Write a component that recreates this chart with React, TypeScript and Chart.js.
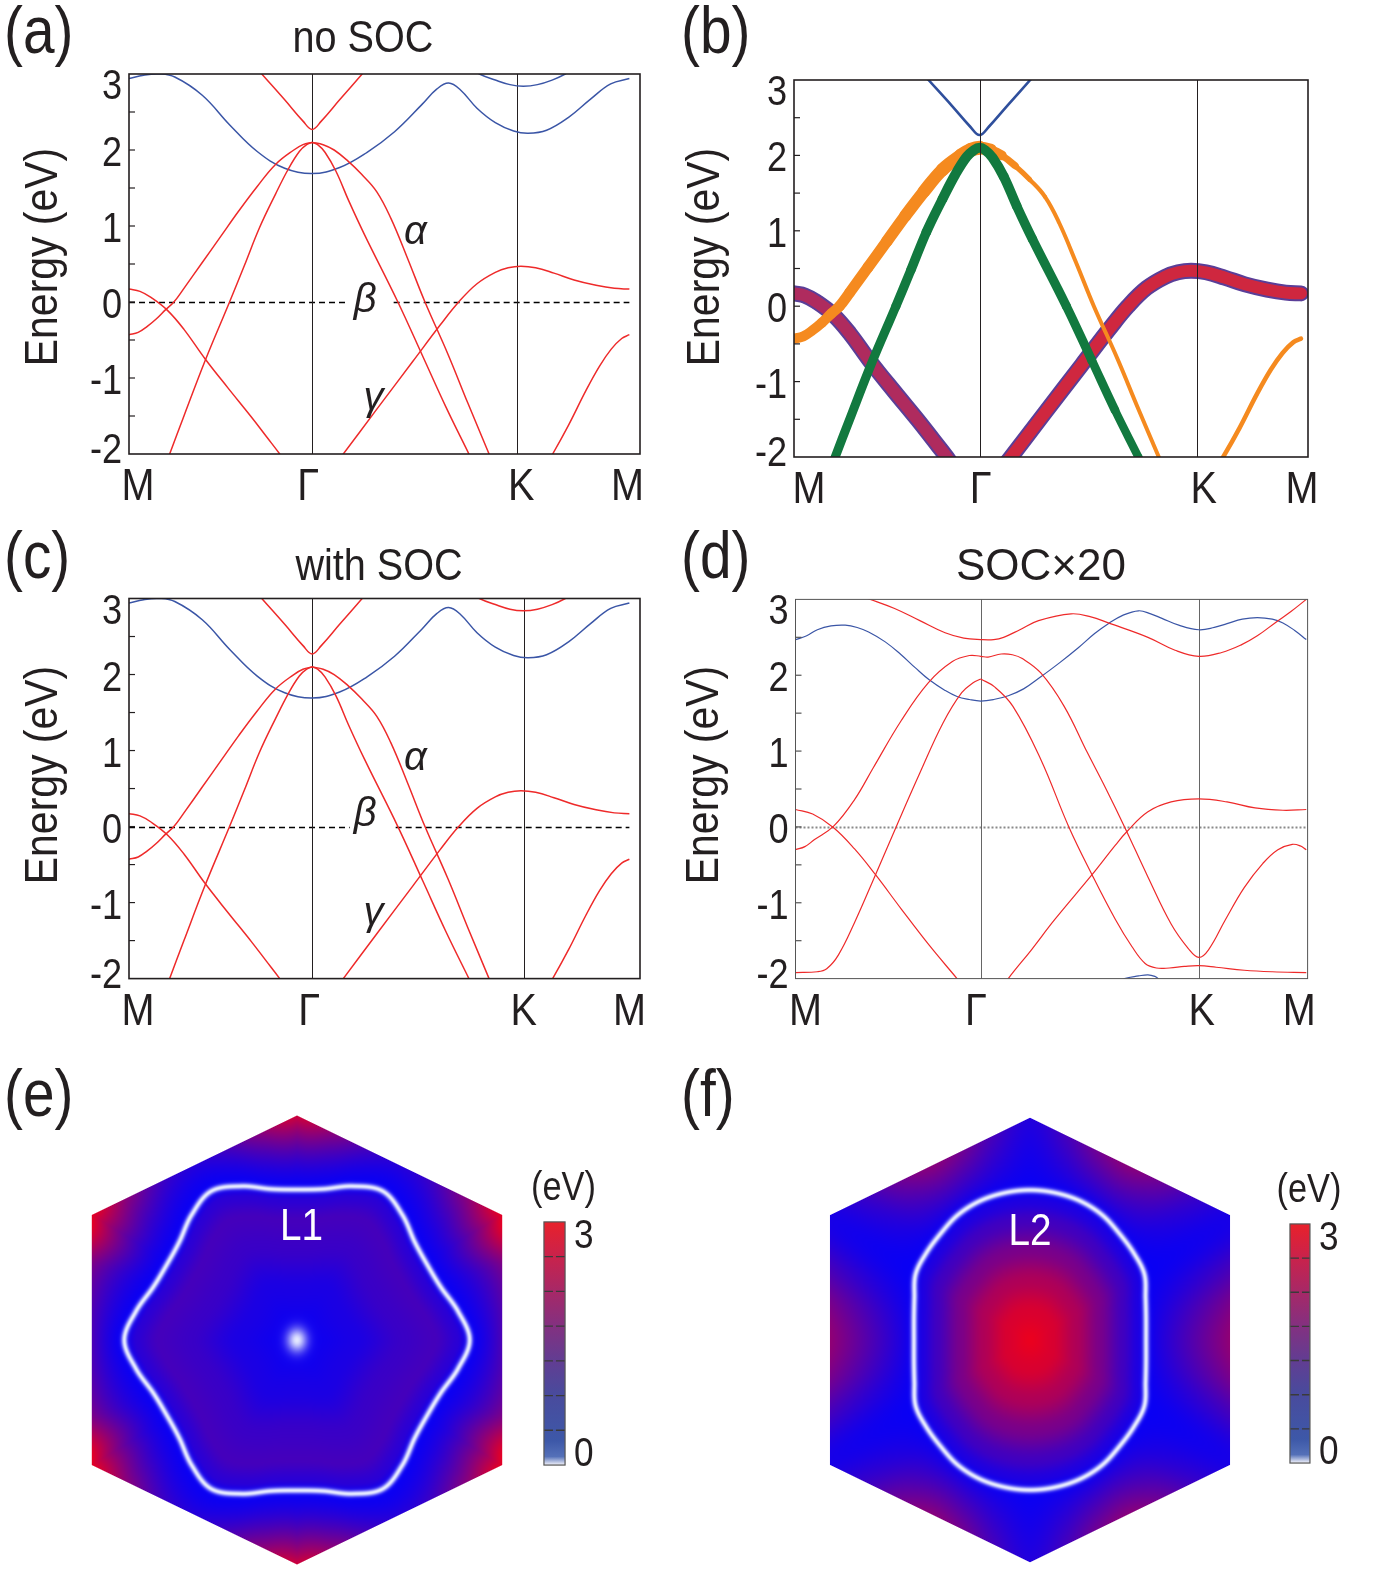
import React, { useEffect, useRef } from 'react';
import { Chart, registerables } from 'chart.js';

Chart.register(...registerables);

type P = [number, number];

const SANS = '"Liberation Sans", Arial, sans-serif';
const INK = '#231f20';
const RED = '#ee2a2a';
const BLUE = '#3a55a6';
const ORANGE = '#f58a1f';
const GREEN = '#12793f';

// ---- k-path and energy axis -------------------------------------------
const kLabels = ['M', 'Γ', 'K', 'M'];
const kNodesA = [0, 1, 2.12, 2.732];
const kNodesB = [0, 1, 2.17, 2.732];
const kNodesC = [0, 1, 2.155, 2.732];
const kNodesD = [0, 0.991, 2.157, 2.732];
const energyTicks = [-2, -1, 0, 1, 2, 3];
const energyMinorTicks = [-1.5, -1, -0.5, 0, 0.5, 1, 1.5, 2, 2.5];

// ---- bands without / with SOC (panels a, b, c) --------------------------
const bandBlueLow: P[] = [[0, 2.94], [0.08, 2.985], [0.165, 3.0], [0.25, 2.96], [0.4, 2.72], [0.55, 2.33], [0.7, 1.98], [0.85, 1.76], [1.0, 1.69], [1.15, 1.77], [1.3, 1.97], [1.45, 2.24], [1.6, 2.6], [1.68, 2.8], [1.745, 2.88], [1.81, 2.79], [1.9, 2.55], [2.0, 2.36], [2.1, 2.25], [2.18, 2.22], [2.28, 2.26], [2.4, 2.43], [2.52, 2.67], [2.63, 2.87], [2.732, 2.94]];
const bandTopK: P[] = [[1.88, 3.06], [1.913, 3.0], [2.0, 2.92], [2.08, 2.86], [2.153, 2.84], [2.23, 2.86], [2.31, 2.92], [2.382, 3.0], [2.41, 3.05]];
const bandVTop: P[] = [[0.7, 3.07], [0.725, 3.0], [0.85, 2.66], [0.95, 2.38], [1.0, 2.27], [1.05, 2.38], [1.15, 2.66], [1.273, 3.0], [1.3, 3.07]];
const bandWideL: P[] = [[0, -0.43], [0.05, -0.4], [0.1, -0.32], [0.15, -0.22], [0.2, -0.1], [0.245, 0.0], [0.3, 0.18], [0.4, 0.52], [0.5, 0.86], [0.6, 1.2], [0.7, 1.52], [0.8, 1.81], [0.9, 2.0], [0.95, 2.07], [1.0, 2.1]];
const bandWideR: P[] = [[1.0, 2.1], [1.06, 2.07], [1.12, 2.0], [1.193, 1.86], [1.27, 1.68], [1.353, 1.45], [1.43, 1.1], [1.52, 0.58], [1.616, 0.0], [1.742, -0.69], [1.85, -1.33], [1.966, -2.0], [1.99, -2.14]];
const bandNarrowL: P[] = [[0.2, -2.15], [0.222, -2.0], [0.3, -1.5], [0.416, -0.77], [0.549, 0.0], [0.63, 0.48], [0.713, 0.98], [0.8, 1.42], [0.87, 1.75], [0.93, 1.98], [0.97, 2.07], [1.0, 2.1]];
const bandNarrowR: P[] = [[1.0, 2.1], [1.03, 2.07], [1.07, 1.97], [1.13, 1.72], [1.2, 1.33], [1.285, 0.89], [1.468, 0.0], [1.605, -0.72], [1.73, -1.38], [1.856, -2.0], [1.88, -2.12]];
const bandDownL: P[] = [[0, 0.17], [0.06, 0.14], [0.12, 0.06], [0.21, -0.11], [0.3, -0.36], [0.416, -0.75], [0.54, -1.13], [0.667, -1.51], [0.75, -1.77], [0.823, -2.0], [0.85, -2.1]];
const bandUpR: P[] = [[1.15, -2.06], [1.17, -2.0], [1.35, -1.42], [1.55, -0.78], [1.7, -0.3], [1.8, 0.0], [1.9, 0.24], [2.0, 0.39], [2.07, 0.45], [2.14, 0.47], [2.22, 0.45], [2.32, 0.38], [2.43, 0.29], [2.55, 0.22], [2.65, 0.18], [2.732, 0.17]];
const bandLowK: P[] = [[2.29, -2.08], [2.313, -2.0], [2.4, -1.62], [2.496, -1.16], [2.57, -0.84], [2.633, -0.62], [2.69, -0.48], [2.732, -0.43]];

// fat-band weights for panel (b), in pixels along each band
const bandWide = [...bandWideL, ...bandWideR.slice(1)];
const wideWeight = [10, 10, 10, 10, 10.5, 10.5, 11, 11, 11.5, 12, 12.5, 13, 13.5, 14, 14, 11.5, 8, 6, 4.5, 4, 4, 4, 4, 4, 4, 4, 4];
const bandNarrow = [...bandNarrowL, ...bandNarrowR.slice(1)];
const narrowWeight = [9, 9, 9, 9, 9, 9.5, 9.5, 10, 10, 10, 10, 10, 10, 10, 10, 9.5, 9.5, 9, 9, 8.5, 8, 8];

// ---- bands with SOC x 20 (panel d) -------------------------------------
const socBlue: P[] = [[0, 2.47], [0.06, 2.52], [0.117, 2.6], [0.19, 2.65], [0.266, 2.66], [0.33, 2.63], [0.391, 2.57], [0.48, 2.44], [0.565, 2.27], [0.64, 2.1], [0.715, 1.94], [0.8, 1.8], [0.864, 1.72], [0.93, 1.68], [0.991, 1.66], [1.06, 1.68], [1.138, 1.73], [1.22, 1.82], [1.312, 1.98], [1.41, 2.16], [1.511, 2.36], [1.6, 2.55], [1.673, 2.68], [1.75, 2.79], [1.835, 2.85], [1.9, 2.81], [1.96, 2.75], [2.05, 2.66], [2.157, 2.6], [2.24, 2.63], [2.308, 2.68], [2.39, 2.74], [2.47, 2.76], [2.55, 2.74], [2.607, 2.69], [2.67, 2.59], [2.732, 2.47]];
const socBlueLow: P[] = [[1.72, -2.06], [1.76, -2.0], [1.835, -1.965], [1.885, -1.95], [1.922, -1.97], [1.94, -2.0], [1.96, -2.06]];
const socTop: P[] = [[0.35, 3.04], [0.4, 3.0], [0.53, 2.88], [0.665, 2.72], [0.8, 2.56], [0.9, 2.49], [0.991, 2.47], [1.06, 2.47], [1.113, 2.5], [1.2, 2.6], [1.3, 2.72], [1.474, 2.81], [1.58, 2.77], [1.673, 2.69], [1.885, 2.5], [2.03, 2.33], [2.157, 2.25], [2.28, 2.3], [2.384, 2.4], [2.47, 2.52], [2.57, 2.7], [2.65, 2.84], [2.732, 3.0]];
const socD1: P[] = [[0, -0.3], [0.05, -0.26], [0.1, -0.17], [0.204, 0.01], [0.316, 0.36], [0.416, 0.78], [0.565, 1.4], [0.71, 1.9], [0.839, 2.18], [0.93, 2.26], [0.991, 2.25], [1.03, 2.24], [1.1, 2.28], [1.16, 2.27], [1.213, 2.22], [1.312, 2.03], [1.437, 1.59], [1.561, 0.98], [1.661, 0.5], [1.76, 0.0], [1.885, -0.66], [2.009, -1.28], [2.1, -1.6], [2.157, -1.72], [2.209, -1.62], [2.3, -1.22], [2.4, -0.8], [2.5, -0.48], [2.58, -0.3], [2.657, -0.23], [2.7, -0.25], [2.732, -0.3]];
const socD2: P[] = [[0.991, 1.95], [1.063, 1.85], [1.163, 1.59], [1.312, 0.89], [1.462, 0.0], [1.586, -0.63], [1.711, -1.22], [1.8, -1.58], [1.87, -1.8], [1.93, -1.86], [2.0, -1.86], [2.08, -1.84], [2.157, -1.83], [2.25, -1.85], [2.4, -1.89], [2.55, -1.91], [2.732, -1.92]];
const socD3: P[] = [[0, 0.23], [0.092, 0.17], [0.204, -0.01], [0.316, -0.29], [0.428, -0.63], [0.565, -1.08], [0.715, -1.56], [0.864, -2.0], [0.89, -2.08]];
const socD4: P[] = [[0, -1.92], [0.117, -1.91], [0.167, -1.87], [0.229, -1.69], [0.316, -1.26], [0.428, -0.63], [0.54, 0.01], [0.665, 0.71], [0.789, 1.37], [0.889, 1.77], [0.95, 1.9], [0.991, 1.95]];
const socD5: P[] = [[1.12, -2.08], [1.138, -2.0], [1.262, -1.62], [1.387, -1.22], [1.586, -0.63], [1.711, -0.24], [1.773, -0.06], [1.885, 0.2], [2.009, 0.33], [2.157, 0.37], [2.308, 0.33], [2.458, 0.25], [2.607, 0.22], [2.732, 0.23]];

// ---- Brillouin-zone maps (panels e, f) ---------------------------------
const hexE: P[] = [[0, 1], [0.914, 0.557], [0.914, -0.557], [0, -1], [-0.914, -0.557], [-0.914, 0.557]];
const hexF: P[] = [[0, 0.99], [0.891, 0.556], [0.891, -0.556], [0, -0.99], [-0.891, -0.556], [-0.891, 0.556]];
// contour radius every 10 degrees from 0 to 90
const ringL1 = [0.769, 0.729, 0.683, 0.67, 0.683, 0.729, 0.765, 0.729, 0.683, 0.67];
const ringL2 = [0.517, 0.525, 0.548, 0.588, 0.603, 0.619, 0.643, 0.658, 0.665, 0.668];
// energy (eV) inside the contour vs fraction of contour radius
const insideS_E = [0, 0.1, 0.35, 0.6, 0.8, 0.93, 1];
const insideE_E = [0.05, 0.08, 0.25, 0.65, 0.8, 0.45, 0.0];
const insideS_F = [0, 0.2, 0.4, 0.6, 0.8, 0.92, 1];
const insideE_F = [3.0, 2.75, 2.2, 1.5, 0.75, 0.3, 0.0];
// energy (eV) on the zone boundary every 10 degrees from 0 to 90
const edgeE_E = [0.9, 1.0, 1.5, 2.95, 1.7, 0.7, 0.4, 0.8, 1.7, 2.6];
const edgeE_F = [1.8, 1.5, 0.8, 0.2, 0.6, 1.3, 1.7, 1.4, 0.8, 0.35];
// colour bar
const cbTicks = [0, 3];
const cbStopPos = [0, 0.035, 0.1, 0.3, 0.44, 0.58, 0.72, 0.87, 1];
const cbStopCol = ['#f4f4fb', '#5470b8', '#3d58a8', '#4a4a9c', '#643c91', '#85307f', '#a82866', '#cc2249', '#e8212b'];
const cbMinor = [1, 2, 3, 4, 5, 6];

// -----------------------------------------------------------------------
function drawText(ctx: CanvasRenderingContext2D, s: string, x: number, y: number, size: number, o: any = {}) {
  ctx.save();
  ctx.translate(x, y);
  if (o.rot) ctx.rotate(o.rot);
  ctx.scale(o.sx ?? 1, 1);
  ctx.font = `${o.italic ? 'italic ' : ''}${size}px ${SANS}`;
  ctx.fillStyle = o.color ?? INK;
  ctx.textAlign = o.align ?? 'left';
  ctx.textBaseline = o.base ?? 'alphabetic';
  ctx.fillText(s, 0, 0);
  ctx.restore();
}

const toXY = (a: P[]) => a.map(([x, y]) => ({ x, y }));

function bandPlugin(cfg: any) {
  const nodeLines = (chart: any) => {
    const { ctx, chartArea: a, scales } = chart;
    ctx.save();
    ctx.strokeStyle = cfg.nodeLine.color;
    ctx.lineWidth = cfg.nodeLine.width;
    for (const v of [cfg.nodes[1], cfg.nodes[2]]) {
      const px = Math.round(scales.x.getPixelForValue(v)) + 0.5;
      ctx.beginPath();
      ctx.moveTo(px, a.top);
      ctx.lineTo(px, a.bottom);
      ctx.stroke();
    }
    ctx.restore();
  };
  return {
    id: 'bandDecor',
    beforeDatasetsDraw(chart: any) {
      const { ctx, scales } = chart;
      if (cfg.zero) {
        const y0 = Math.round(scales.y.getPixelForValue(0)) + 0.5;
        ctx.save();
        ctx.strokeStyle = cfg.zero.color;
        ctx.lineWidth = cfg.zero.width;
        ctx.setLineDash(cfg.zero.dash);
        for (const [s, e] of cfg.zero.spans) {
          ctx.beginPath();
          ctx.moveTo(scales.x.getPixelForValue(s), y0);
          ctx.lineTo(scales.x.getPixelForValue(e), y0);
          ctx.stroke();
        }
        ctx.restore();
      }
      if (!cfg.nodeLine.onTop) nodeLines(chart);
    },
    afterDatasetsDraw(chart: any) {
      const { ctx, chartArea: a, scales } = chart;
      if (cfg.nodeLine.onTop) nodeLines(chart);
      ctx.save();
      ctx.strokeStyle = cfg.frame.color;
      ctx.lineWidth = cfg.frame.width;
      ctx.strokeRect(a.left, a.top, a.right - a.left, a.bottom - a.top);
      ctx.lineWidth = 1.2;
      for (const v of energyMinorTicks) {
        const py = scales.y.getPixelForValue(v);
        ctx.beginPath();
        ctx.moveTo(a.left, py);
        ctx.lineTo(a.left + 6, py);
        ctx.stroke();
      }
      ctx.restore();
      for (const v of energyTicks) {
        let py = scales.y.getPixelForValue(v) + 16;
        py = Math.max(py, a.top + 25);
        py = Math.min(py, a.bottom + 9);
        drawText(ctx, String(v), a.left - 7, py, 42, { align: 'right', sx: 0.86 });
      }
      cfg.nodes.forEach((v: number, i: number) => {
        drawText(ctx, kLabels[i], scales.x.getPixelForValue(v) + cfg.labelShift[i], a.bottom + 46, 44, { align: 'center', sx: 0.9 });
      });
      drawText(ctx, 'Energy (eV)', cfg.yTitle[0], cfg.yTitle[1], 46, { align: 'center', rot: -Math.PI / 2, sx: 0.89 });
      drawText(ctx, cfg.panel, cfg.panelPos[0], cfg.panelPos[1], 66, { sx: 0.86 });
      if (cfg.title) drawText(ctx, cfg.title.text, cfg.title.x, cfg.title.y, 44, { align: 'center', sx: cfg.title.sx });
      for (const g of cfg.greek || []) {
        drawText(ctx, g.t, scales.x.getPixelForValue(g.x), scales.y.getPixelForValue(g.y), 40, { align: 'center', base: 'middle', italic: true });
      }
    },
  };
}

function lineDataset(spec: any) {
  const ds: any = {
    data: toXY(spec.pts),
    borderColor: spec.color,
    borderWidth: spec.width,
    pointRadius: 0,
    tension: 0.4,
    fill: false,
    clip: 0,
    borderCapStyle: spec.cap ?? 'butt',
    borderJoinStyle: 'round',
  };
  if (spec.widths) {
    const w = spec.widths;
    ds.segment = { borderWidth: (c: any) => (w[c.p0DataIndex] + w[c.p1DataIndex]) / 2 };
  }
  return ds;
}

function BandPanel({ cfg }: { cfg: any }) {
  const ref = useRef<HTMLCanvasElement>(null);
  useEffect(() => {
    const chart = new Chart(ref.current as HTMLCanvasElement, {
      type: 'line',
      data: { datasets: cfg.lines.slice().reverse().map(lineDataset) },
      options: {
        responsive: false,
        animation: false,
        devicePixelRatio: 1,
        events: [],
        layout: { padding: cfg.pad },
        elements: { line: { capBezierPoints: false } },
        scales: {
          x: { type: 'linear', min: 0, max: cfg.xMax, display: false },
          y: { type: 'linear', min: -2, max: 3, display: false },
        },
        plugins: { legend: { display: false }, tooltip: { enabled: false } },
      },
      plugins: [bandPlugin(cfg)],
    } as any);
    return () => chart.destroy();
  }, []);
  return <canvas ref={ref} width={cfg.w} height={cfg.h} style={{ position: 'absolute', left: cfg.left, top: cfg.top, width: cfg.w, height: cfg.h }} />;
}

// lines listed bottom-first
const linesPlain = (topKColor: string) => [
  { pts: bandBlueLow, color: BLUE, width: 1.5 },
  { pts: bandTopK, color: topKColor, width: 1.5 },
  { pts: bandVTop, color: RED, width: 1.5 },
  { pts: bandWideL, color: RED, width: 1.5 },
  { pts: bandWideR, color: RED, width: 1.5 },
  { pts: bandNarrowL, color: RED, width: 1.5 },
  { pts: bandNarrowR, color: RED, width: 1.5 },
  { pts: bandDownL, color: RED, width: 1.5 },
  { pts: bandUpR, color: RED, width: 1.5 },
  { pts: bandLowK, color: RED, width: 1.5 },
];

const linesFat = [
  { pts: bandVTop, color: '#2f4f9c', width: 2.6 },
  { pts: bandDownL, color: '#5a3e98', width: 16, cap: 'round' },
  { pts: bandUpR, color: '#5a3e98', width: 16, cap: 'round' },
  { pts: bandDownL, color: 'rgba(190,40,84,0.85)', width: 12, cap: 'round' },
  { pts: bandUpR, color: 'rgba(214,38,58,0.95)', width: 12, cap: 'round' },
  { pts: bandLowK, color: ORANGE, width: 4.5, cap: 'round' },
  { pts: bandWide, color: ORANGE, width: 10, widths: wideWeight, cap: 'round' },
  { pts: bandNarrow, color: GREEN, width: 9, widths: narrowWeight, cap: 'round' },
];

const linesSoc = [
  { pts: socBlue, color: BLUE, width: 1.2 },
  { pts: socBlueLow, color: BLUE, width: 1.2 },
  { pts: socTop, color: RED, width: 1.2 },
  { pts: socD1, color: RED, width: 1.2 },
  { pts: socD2, color: RED, width: 1.2 },
  { pts: socD3, color: RED, width: 1.2 },
  { pts: socD4, color: RED, width: 1.2 },
  { pts: socD5, color: RED, width: 1.2 },
];

const bandPanels = [
  {
    panel: '(a)', left: 0, top: 0, w: 660, h: 520, pad: { left: 129, top: 74, right: 20, bottom: 66 }, xMax: 2.79,
    nodes: kNodesA, labelShift: [9, -4, 4, -2], panelPos: [4, 53], yTitle: [57, 257],
    title: { text: 'no SOC', x: 363, y: 52, sx: 0.9 },
    zero: { spans: [[0, 1.19], [1.445, 2.732]], color: '#000000', width: 1.3, dash: [6, 4] },
    greek: [{ t: 'α', x: 1.564, y: 0.906 }, { t: 'β', x: 1.289, y: 0.01 }, { t: 'γ', x: 1.335, y: -1.27 }],
    frame: { color: INK, width: 1.6 }, nodeLine: { color: INK, width: 1, onTop: false },
    lines: linesPlain(BLUE),
  },
  {
    panel: '(b)', left: 660, top: 0, w: 729, h: 520, pad: { left: 134, top: 80, right: 81, bottom: 63 }, xMax: 2.77,
    nodes: kNodesB, labelShift: [15, 1, 7, 1], panelPos: [21, 53], yTitle: [59, 257],
    frame: { color: INK, width: 1.6 }, nodeLine: { color: INK, width: 1, onTop: true },
    lines: linesFat,
  },
  {
    panel: '(c)', left: 0, top: 520, w: 660, h: 520, pad: { left: 129, top: 78.5, right: 20, bottom: 61.4 }, xMax: 2.79,
    nodes: kNodesC, labelShift: [9, -3, 0, 0], panelPos: [4, 58], yTitle: [57, 255],
    title: { text: 'with SOC', x: 379, y: 60, sx: 0.9 },
    zero: { spans: [[0, 1.205], [1.456, 2.732]], color: '#000000', width: 1.3, dash: [6, 4] },
    greek: [{ t: 'α', x: 1.564, y: 0.894 }, { t: 'β', x: 1.289, y: 0.15 }, { t: 'γ', x: 1.335, y: -1.155 }],
    frame: { color: INK, width: 1.6 }, nodeLine: { color: INK, width: 1, onTop: false },
    lines: linesPlain(RED),
  },
  {
    panel: '(d)', left: 660, top: 520, w: 729, h: 520, pad: { left: 135.5, top: 79.4, right: 81.4, bottom: 61.4 }, xMax: 2.739,
    nodes: kNodesD, labelShift: [10, -5, 3, -7], panelPos: [21, 58], yTitle: [58, 255],
    title: { text: 'SOC×20', x: 381, y: 60, sx: 1.0 },
    zero: { spans: [[0, 2.732]], color: '#8a8a8a', width: 2, dash: [2, 2] },
    frame: { color: '#555', width: 1 }, nodeLine: { color: '#666', width: 1, onTop: false },
    lines: linesSoc,
  },
];

// ---- map helpers -------------------------------------------------------
function sampleDeg(arr: number[], th: number) {
  let a = Math.abs(th);
  if (a > 90) a = 180 - a;
  const f = a / 10;
  const i = Math.min(8, Math.floor(f));
  const t = f - i;
  const g = (k: number) => arr[k < 0 ? -k : k > 9 ? 18 - k : k];
  const p0 = g(i - 1), p1 = g(i), p2 = g(i + 1), p3 = g(i + 2);
  return 0.5 * (2 * p1 + (-p0 + p2) * t + (2 * p0 - 5 * p1 + 4 * p2 - p3) * t * t + (-p0 + 3 * p1 - 3 * p2 + p3) * t * t * t);
}

function profile(xs: number[], ys: number[], v: number) {
  if (v <= xs[0]) return ys[0];
  for (let i = 1; i < xs.length; i++) {
    if (v <= xs[i]) {
      const t = (v - xs[i - 1]) / (xs[i] - xs[i - 1]);
      const s = t * t * (3 - 2 * t);
      return ys[i - 1] + (ys[i] - ys[i - 1]) * (0.5 * t + 0.5 * s);
    }
  }
  return ys[ys.length - 1];
}

function mapPlugin(cfg: any) {
  return {
    id: 'bzMap',
    beforeDatasetsDraw(chart: any) {
      const { ctx, scales } = chart;
      const xs = scales.x, ys = scales.y;
      const hex: P[] = cfg.hex;
      const hp = hex.map(([a, b]) => [xs.getPixelForValue(a), ys.getPixelForValue(b)]);
      const bx0 = Math.floor(Math.min(...hp.map((p) => p[0]))) - 1;
      const bx1 = Math.ceil(Math.max(...hp.map((p) => p[0]))) + 1;
      const by0 = Math.floor(Math.min(...hp.map((p) => p[1]))) - 1;
      const by1 = Math.ceil(Math.max(...hp.map((p) => p[1]))) + 1;
      const w = bx1 - bx0, h = by1 - by0;
      const unit = Math.abs(xs.getPixelForValue(1) - xs.getPixelForValue(0));
      const edges = hex.map((v, i) => {
        const u = hex[(i + 1) % hex.length];
        let nx = u[1] - v[1], ny = -(u[0] - v[0]);
        const L = Math.hypot(nx, ny);
        nx /= L; ny /= L;
        let d = nx * v[0] + ny * v[1];
        if (d < 0) { nx = -nx; ny = -ny; d = -d; }
        return [nx, ny, d];
      });
      const img = ctx.createImageData(w, h);
      const D = img.data;
      const deg = Math.PI / 180;
      for (let j = 0; j < h; j++) {
        const ky = ys.getValueForPixel(by0 + j + 0.5);
        for (let i = 0; i < w; i++) {
          const kx = xs.getValueForPixel(bx0 + i + 0.5);
          let hn = 0, gap = Infinity;
          for (const [nx, ny, d] of edges) {
            const pr = nx * kx + ny * ky;
            if (pr / d > hn) hn = pr / d;
            if (d - pr < gap) gap = d - pr;
          }
          const alpha = Math.max(0, Math.min(1, gap * unit + 0.5));
          if (alpha <= 0) continue;
          const r = Math.hypot(kx, ky);
          const th = Math.atan2(Math.abs(ky), Math.abs(kx)) / deg;
          const rr = sampleDeg(cfg.ring, th);
          let E: number;
          if (r < rr) {
            E = profile(cfg.inS, cfg.inE, r / rr);
          } else {
            const rb = hn > 0 ? r / hn : rr;
            const t = Math.max(0, Math.min(1, (r - rr) / Math.max(rb - rr, 1e-6)));
            E = sampleDeg(cfg.edgeE, th) * Math.pow(t, cfg.edgeP);
          }
          const drr = (sampleDeg(cfg.ring, th + 0.5) - sampleDeg(cfg.ring, th - 0.5)) / deg;
          const perp = (Math.abs(r - rr) * unit * rr) / Math.hypot(rr, drr);
          let wv = Math.exp(-Math.pow(perp / 3.1, 2));
          if (cfg.dot) {
            const qx = (kx * unit) / 10, qy = (ky * unit) / 12;
            wv = Math.max(wv, Math.exp(-(qx * qx + qy * qy)));
          }
          const tt = Math.max(0, Math.min(1, E / 3));
          let R = 8 + 227 * tt, G = 0, B = 245 - 215 * tt;
          R += (228 - R) * wv; G += (232 - G) * wv; B += (255 - B) * wv;
          const o = (j * w + i) * 4;
          D[o] = R; D[o + 1] = G; D[o + 2] = B; D[o + 3] = 255 * alpha;
        }
      }
      const off = document.createElement('canvas');
      off.width = w; off.height = h;
      (off.getContext('2d') as CanvasRenderingContext2D).putImageData(img, 0, 0);
      ctx.drawImage(off, bx0, by0);
    },
    afterDatasetsDraw(chart: any) {
      const { ctx, scales } = chart;
      const xs = scales.x, ys = scales.y;
      const cb = cfg.cb;
      const L = xs.getPixelForValue(cb.x0), R = xs.getPixelForValue(cb.x1);
      const T = ys.getPixelForValue(cb.y1), Bt = ys.getPixelForValue(cb.y0);
      const grad = ctx.createLinearGradient(0, Bt, 0, T);
      cbStopPos.forEach((p, i) => grad.addColorStop(p, cbStopCol[i]));
      ctx.save();
      ctx.fillStyle = grad;
      ctx.fillRect(L, T, R - L, Bt - T);
      ctx.strokeStyle = '#3a3a3a';
      ctx.lineWidth = 1.4;
      ctx.setLineDash([9, 3]);
      for (const k of cbMinor) {
        const py = Bt - ((Bt - T) * k) / 7;
        ctx.beginPath();
        ctx.moveTo(L, py);
        ctx.lineTo(R, py);
        ctx.stroke();
      }
      ctx.setLineDash([]);
      ctx.strokeStyle = '#555';
      ctx.lineWidth = 1.2;
      ctx.strokeRect(L, T, R - L, Bt - T);
      ctx.restore();
      drawText(ctx, String(cbTicks[1]), R + 9, T + 26, 40, { sx: 0.88 });
      drawText(ctx, String(cbTicks[0]), R + 9, Bt + 1, 40, { sx: 0.88 });
      drawText(ctx, '(eV)', (L + R) / 2 + 9, T - 22, 40, { align: 'center', sx: 0.86 });
      drawText(ctx, cfg.label.text, xs.getPixelForValue(cfg.label.x), ys.getPixelForValue(cfg.label.y), 44, { align: 'center', base: 'middle', sx: 0.88, color: '#ffffff' });
      drawText(ctx, cfg.panel, cfg.panelPos[0], cfg.panelPos[1], 66, { sx: 0.86 });
    },
  };
}

function MapPanel({ cfg }: { cfg: any }) {
  const ref = useRef<HTMLCanvasElement>(null);
  useEffect(() => {
    const chart = new Chart(ref.current as HTMLCanvasElement, {
      type: 'line',
      data: { datasets: [{ data: toXY([...cfg.hex, cfg.hex[0]]), borderColor: 'rgba(0,0,0,0)', borderWidth: 0, pointRadius: 0, tension: 0 }] },
      options: {
        responsive: false,
        animation: false,
        devicePixelRatio: 1,
        events: [],
        layout: { padding: 0 },
        scales: {
          x: { type: 'linear', min: cfg.xMin, max: cfg.xMax, display: false },
          y: { type: 'linear', min: cfg.yMin, max: cfg.yMax, display: false },
        },
        plugins: { legend: { display: false }, tooltip: { enabled: false } },
      },
      plugins: [mapPlugin(cfg)],
    } as any);
    return () => chart.destroy();
  }, []);
  return <canvas ref={ref} width={cfg.w} height={cfg.h} style={{ position: 'absolute', left: cfg.left, top: cfg.top, width: cfg.w, height: cfg.h }} />;
}

const mapPanels = [
  {
    panel: '(e)', left: 0, top: 1040, w: 660, h: 553, xMin: -1.3229, xMax: 1.6169, yMin: -1.1269, yMax: 1.3363,
    hex: hexE, ring: ringL1, inS: insideS_E, inE: insideE_E, edgeE: edgeE_E, edgeP: 1.6, dot: true,
    cb: { x0: 1.1, x1: 1.194, y0: -0.557, y1: 0.526 }, label: { text: 'L1', x: 0.02, y: 0.5 }, panelPos: [4, 76],
  },
  {
    panel: '(f)', left: 660, top: 1040, w: 729, h: 553, xMin: -1.6481, xMax: 1.5991, yMin: -1.1269, yMax: 1.3363,
    hex: hexF, ring: ringL2, inS: insideS_F, inE: insideE_F, edgeE: edgeE_F, edgeP: 1.0, dot: false,
    cb: { x0: 1.158, x1: 1.247, y0: -0.548, y1: 0.517 }, label: { text: 'L2', x: 0.0, y: 0.477 }, panelPos: [21, 76],
  },
];

export default function App() {
  return (
    <div style={{ position: 'absolute', left: 0, top: 0, width: 1389, height: 1593, background: '#ffffff', overflow: 'hidden' }}>
      {bandPanels.map((c) => <BandPanel key={c.panel} cfg={c} />)}
      {mapPanels.map((c) => <MapPanel key={c.panel} cfg={c} />)}
    </div>
  );
}
